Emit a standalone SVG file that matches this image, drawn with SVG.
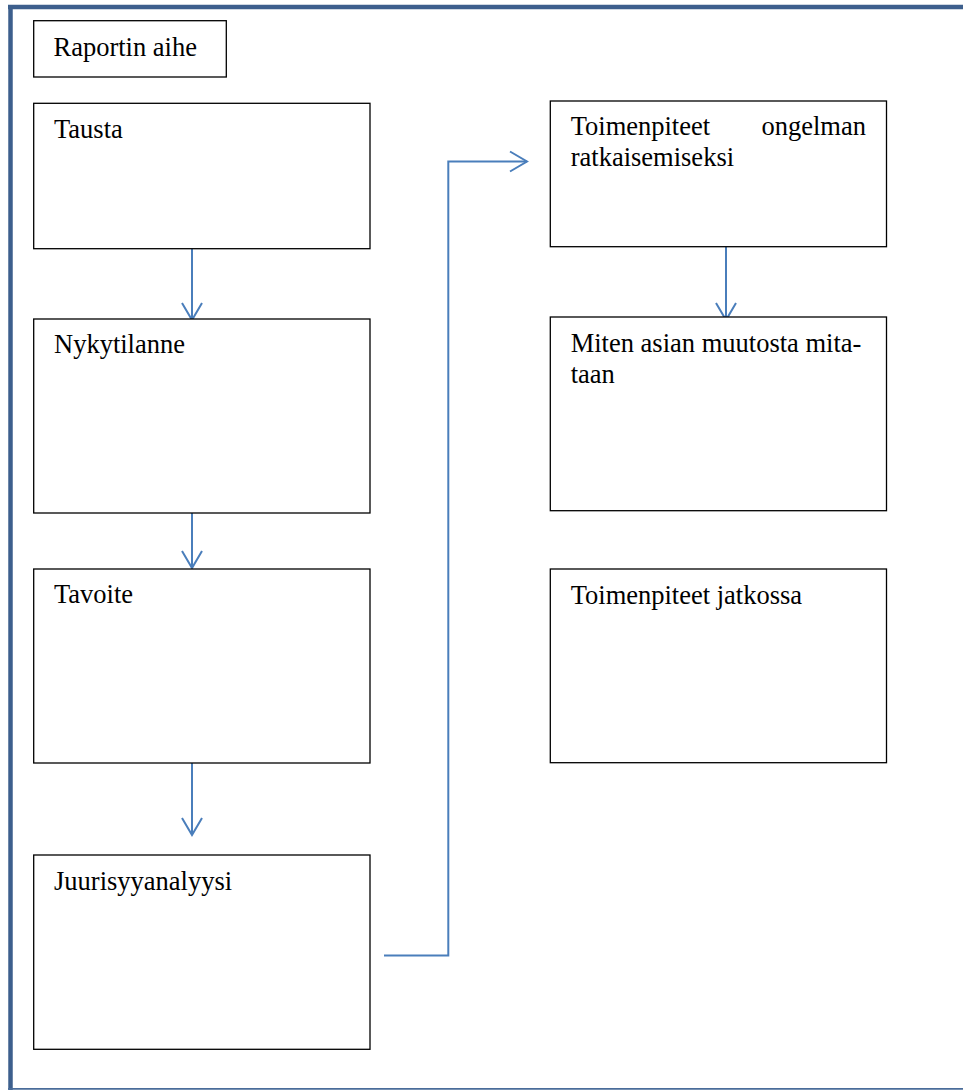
<svg xmlns="http://www.w3.org/2000/svg" width="963" height="1090" viewBox="0 0 963 1090">
<style>
.box{fill:#ffffff;stroke:#000000;stroke-width:1.3}
.lbl{font-family:'Liberation Serif','Times New Roman',serif;font-size:26.5px;fill:#000000}
.con{fill:none;stroke:#4A7EBB;stroke-width:2}
</style>
<defs>
<marker id="ah" markerUnits="userSpaceOnUse" markerWidth="40" markerHeight="40" viewBox="-20 -20 40 40" refX="0" refY="0" orient="auto" overflow="visible">
<path d="M-17,-10 L0,0 L-17,10" fill="none" stroke="#4A7EBB" stroke-width="2"/>
</marker>
</defs>
<rect width="963" height="1090" fill="#ffffff"/>
<g id="frame">
<line x1="8" y1="7" x2="963" y2="7" stroke="#3D5F8D" stroke-width="4.5"/>
<line x1="10.5" y1="5" x2="10.5" y2="1090" stroke="#3D5F8D" stroke-width="4.5"/>
<line x1="8" y1="1088.8" x2="963" y2="1088.8" stroke="#4A6C9A" stroke-width="1.8"/>
</g>
<g id="connectors">
<path class="con" d="M192,249 L192,320" marker-end="url(#ah)"/>
<path class="con" d="M192,513 L192,568" marker-end="url(#ah)"/>
<path class="con" d="M192,763 L192,835" marker-end="url(#ah)"/>
<path class="con" d="M384,955.5 L448.3,955.5 L448.3,161.5 L527,161.5" marker-end="url(#ah)"/>
<path class="con" d="M726,247 L726,320" marker-end="url(#ah)"/>
</g>
<g id="n-raportin-aihe">
<rect class="box" x="33.7" y="20.7" width="192.6" height="56.3"/>
<text class="lbl" x="53.5" y="56">Raportin aihe</text>
</g>
<g id="n-tausta">
<rect class="box" x="33.7" y="103.3" width="336.3" height="145.4"/>
<text class="lbl" x="54" y="138">Tausta</text>
</g>
<g id="n-nykytilanne">
<rect class="box" x="33.7" y="319" width="336.3" height="194"/>
<text class="lbl" x="54" y="353">Nykytilanne</text>
</g>
<g id="n-tavoite">
<rect class="box" x="33.7" y="569" width="336.3" height="194"/>
<text class="lbl" x="54" y="603">Tavoite</text>
</g>
<g id="n-juurisyyanalyysi">
<rect class="box" x="33.7" y="855" width="336.3" height="194.3"/>
<text class="lbl" x="54" y="890">Juurisyyanalyysi</text>
</g>
<g id="n-toimenpiteet-ongelman">
<rect class="box" x="550.3" y="101" width="336.2" height="145.7"/>
<text class="lbl" x="570.7" y="135">Toimenpiteet</text>
<text class="lbl" x="866" y="135" text-anchor="end">ongelman</text>
<text class="lbl" x="570.7" y="166">ratkaisemiseksi</text>
</g>
<g id="n-miten">
<rect class="box" x="550.3" y="317" width="336.2" height="193.7"/>
<text class="lbl" x="570.7" y="351.7">Miten asian muutosta mita-</text>
<text class="lbl" x="570.7" y="383.3">taan</text>
</g>
<g id="n-toimenpiteet-jatkossa">
<rect class="box" x="550.3" y="569" width="336.2" height="193.7"/>
<text class="lbl" x="570.7" y="604">Toimenpiteet jatkossa</text>
</g>
</svg>
